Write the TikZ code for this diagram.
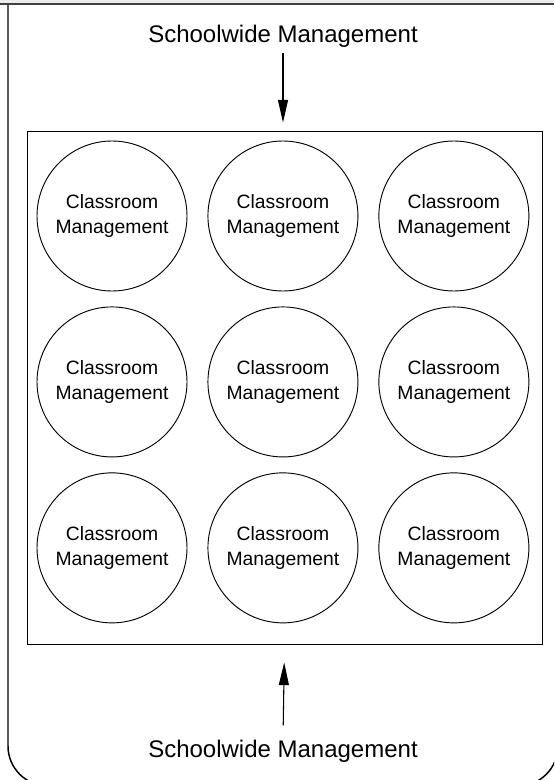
\documentclass[tikz,border=0pt]{standalone}
\usepackage{fontspec}
\setmainfont{Liberation Sans}
\usetikzlibrary{arrows.meta}
\usetikzlibrary{positioning}
\tikzset {
  % outer page frame
  frame line/.style = {
    draw = black,
    line width = 1.1pt,
    rounded corners = 30pt
  },
  % the square that holds all classrooms
  school box/.style = {
    draw = black,
    line width = 0.7pt,
    minimum width = 386.25pt,
    minimum height = 384.75pt,
    inner sep = 0
  },
  % one classroom
  class node/.style = {
    draw = black,
    circle,
    line width = 0.7pt,
    minimum size = 112.5pt,
    inner sep = 0,
    align = center,
    font = \fontsize{14.5}{18.75}\selectfont
  },
  school label/.style = {
    inner sep = 0,
    anchor = base,
    font = \fontsize{18}{22}\selectfont
  },
  flow arr/.style = {
    draw = black,
    line width = 0.8pt,
    -{Triangle[length = 17pt, width = 7.5pt]}
  }
}

\begin{document}
\begin{tikzpicture}[x = 0.75pt, y = -0.75pt, node distance = 11.25pt and 15pt]
    \useasboundingbox (0,0) rectangle (554,780);
    \clip (0,0) rectangle (554,780);

    % header strip and frame
    \fill[gray!15] (0,0) rectangle (554,4);
    \draw[frame line] (8,4) -- (8,786) -- (558,786) -- (558,4);
    \draw[line width = 1.1pt, black!75] (0,4) -- (554,4);

    \node[school box] (school) at (284.5,387.5) {};

    \node[class node] (class-1-1) at (112,216) {Classroom\\Management};
    \node[class node] (class-1-2) [right=of class-1-1] {Classroom\\Management};
    \node[class node] (class-1-3) [right=of class-1-2] {Classroom\\Management};
    \node[class node] (class-2-1) [below=of class-1-1] {Classroom\\Management};
    \node[class node] (class-2-2) [right=of class-2-1] {Classroom\\Management};
    \node[class node] (class-2-3) [right=of class-2-2] {Classroom\\Management};
    \node[class node] (class-3-1) [below=of class-2-1] {Classroom\\Management};
    \node[class node] (class-3-2) [right=of class-3-1] {Classroom\\Management};
    \node[class node] (class-3-3) [right=of class-3-2] {Classroom\\Management};

    \node[school label] (top label) at (283,43) {Schoolwide Management};
    \node[school label] (bottom label) at (283,757) {Schoolwide Management};

    \draw[flow arr, shorten <= 3.75pt, shorten >= 6pt]
      (top label.south) -- (top label.south |- school.north);
    \draw[flow arr, shorten <= 10.5pt, shorten >= 13.5pt]
      (bottom label.north) -- (school.south);
\end{tikzpicture}
\end{document}
